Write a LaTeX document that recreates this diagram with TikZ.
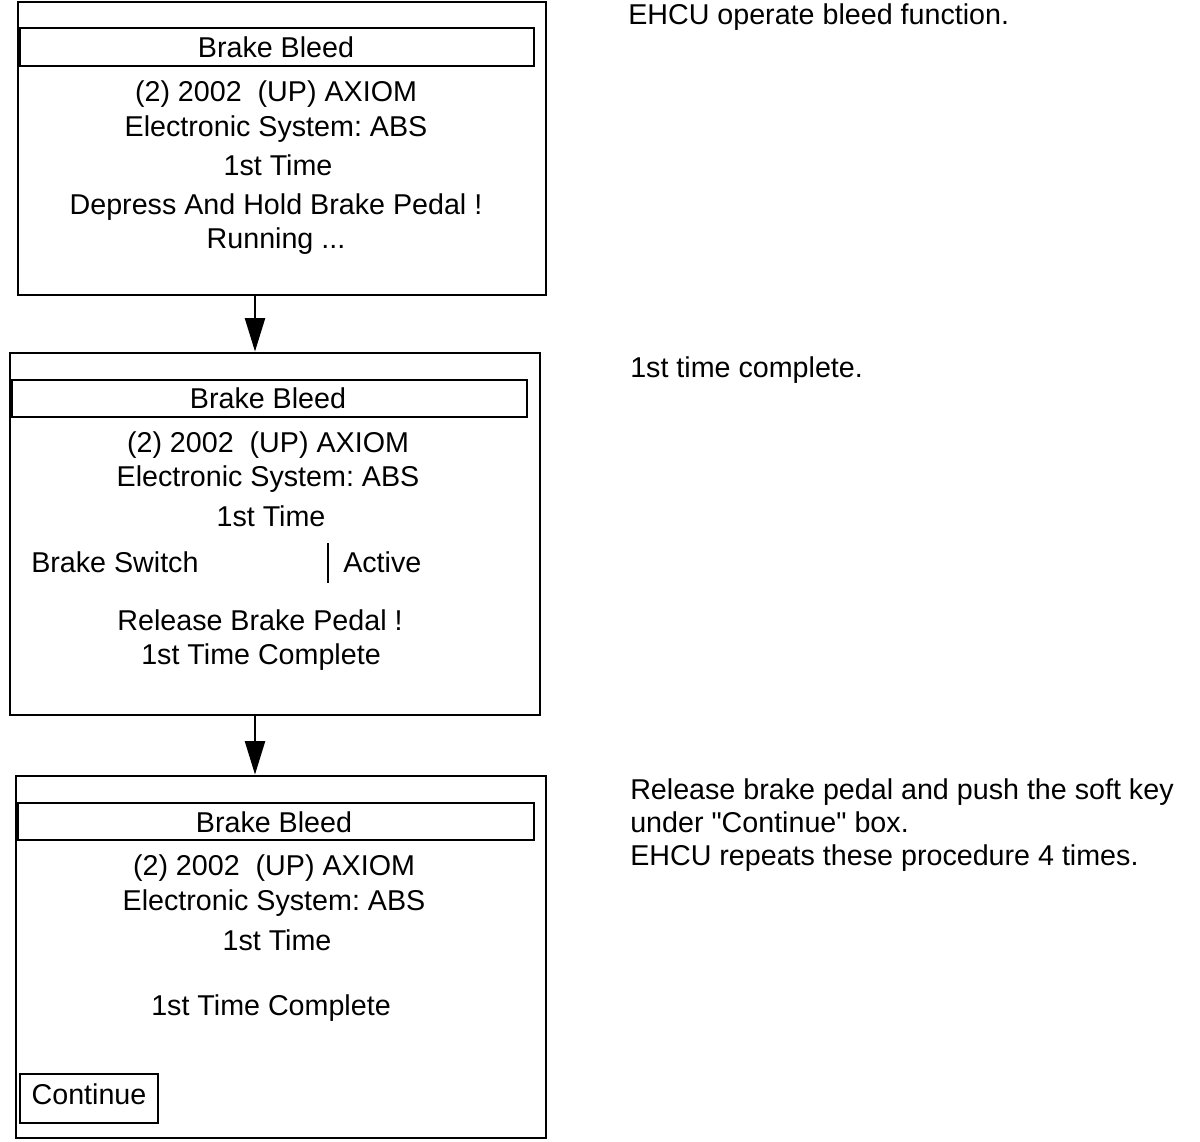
\documentclass[tikz,border=0pt]{standalone}
\usepackage{fontspec}
\setmainfont{Liberation Sans}[Ligatures=TeXOff]
\usetikzlibrary{fit,arrows.meta}
\begin{document}
\frenchspacing
\begin{tikzpicture}[x=0.75pt,y=-0.75pt,
  every node/.style={font=\fontsize{21.5}{26}\selectfont\frenchspacing, inner sep=0pt},
  screen/.style={draw, line width=2.2pt, inner sep=0pt},
  titlebar/.style={draw, line width=1.2pt, inner sep=0pt},
  txt/.style={anchor=center, text height=15.4pt, text depth=0pt},
  ltxt/.style={anchor=west, text height=15.4pt, text depth=0pt},
  arr/.style={line width=1.6pt, -{Triangle[width=15pt,length=25pt]}}]
\useasboundingbox (0,0) rectangle (1200,1142);
% --- screen 1
\coordinate (s1a) at (18,2); \coordinate (s1b) at (546,295);
\node[screen, fit=(s1a)(s1b)] (s1) {};
\coordinate (t1a) at (20,28); \coordinate (t1b) at (534,66);
\node[titlebar, fit=(t1a)(t1b)] (t1) {};
\node[txt] (t1txt) at (276,47) {Brake Bleed};
\node[txt] (s1l1) at (276,91) {(2) 2002\ \ (UP) AXIOM};
\node[txt] (s1l2) at (276,126) {Electronic System: ABS};
\node[txt] (s1l3) at (278,165) {1st Time};
\node[txt] (s1l4) at (276,204) {Depress And Hold Brake Pedal !};
\node[txt] (s1l5) at (276,238) {Running ...};
% --- screen 2
\coordinate (s2a) at (10,353); \coordinate (s2b) at (540,715);
\node[screen, fit=(s2a)(s2b)] (s2) {};
\coordinate (t2a) at (12,380); \coordinate (t2b) at (527,417);
\node[titlebar, fit=(t2a)(t2b)] (t2) {};
\node[txt] (t2txt) at (268,398) {Brake Bleed};
\node[txt] (s2l1) at (268,442) {(2) 2002\ \ (UP) AXIOM};
\node[txt] (s2l2) at (268,476) {Electronic System: ABS};
\node[txt] (s2l3) at (271,516) {1st Time};
\node[ltxt] (s2sw) at (31,562) {Brake Switch};
\coordinate (d2a) at (328,543); \coordinate (d2b) at (328,583);
\draw[line width=1.2pt] (d2a) -- (d2b);
\node[ltxt] (s2ac) at (343,562) {Active};
\node[txt] (s2l4) at (260,620) {Release Brake Pedal !};
\node[txt] (s2l5) at (261,654) {1st Time Complete};
% --- screen 3
\coordinate (s3a) at (16,776); \coordinate (s3b) at (546,1138);
\node[screen, fit=(s3a)(s3b)] (s3) {};
\coordinate (t3a) at (18,803); \coordinate (t3b) at (534,840);
\node[titlebar, fit=(t3a)(t3b)] (t3) {};
\node[txt] (t3txt) at (274,822) {Brake Bleed};
\node[txt] (s3l1) at (274,865) {(2) 2002\ \ (UP) AXIOM};
\node[txt] (s3l2) at (274,900) {Electronic System: ABS};
\node[txt] (s3l3) at (277,940) {1st Time};
\node[txt] (s3l4) at (271,1005) {1st Time Complete};
\coordinate (c3a) at (20,1074); \coordinate (c3b) at (158,1123);
\node[titlebar, line width=1.6pt, fit=(c3a)(c3b)] (cont) {};
\node[txt] (conttxt) at (89,1094) {Continue};
% --- arrows
\coordinate (ax) at (255,0);
\draw[arr] (s1.south -| ax) -- (s2.north -| ax);
\draw[arr] (s2.south -| ax) -- (s3.north -| ax);
% --- right-hand notes
\node[ltxt] (n1) at (628,14) {EHCU operate bleed function.};
\node[ltxt] (n2) at (630,367) {1st time complete.};
\node[ltxt] (n3a) at (630,789) {Release brake pedal and push the soft key};
\node[ltxt] (n3b) at (630,822) {under "Continue" box.};
\node[ltxt] (n3c) at (630,855) {EHCU repeats these procedure 4 times.};
\end{tikzpicture}
\end{document}
